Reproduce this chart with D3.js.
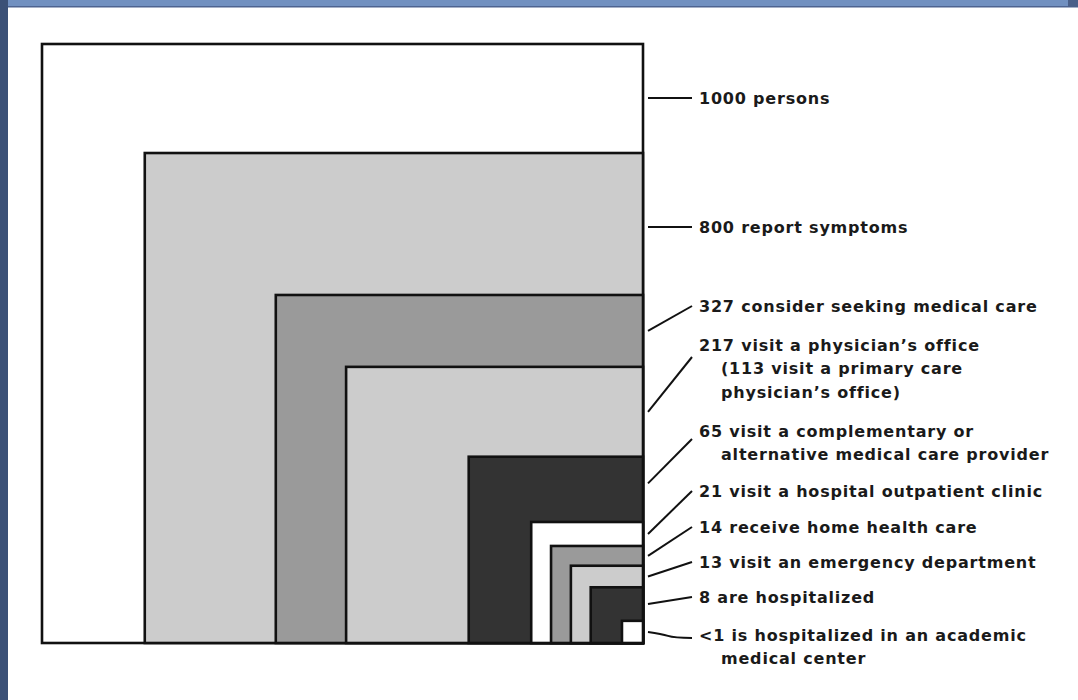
<!DOCTYPE html>
<html><head><meta charset="utf-8">
<script src="https://cdn.jsdelivr.net/npm/d3@7"></script>
<style>html,body{margin:0;padding:0;background:#fff;}svg{display:block;}</style>
</head><body>
<svg id="c" width="1078" height="700"></svg>
<script>
// ---- data ----
const counts = ["1000", "800", "327", "217", "65", "21", "14", "13", "8", "<1"];
const labels = [
  ["1000 persons"],
  ["800 report symptoms"],
  ["327 consider seeking medical care"],
  ["217 visit a physician\u2019s office", "(113 visit a primary care", "physician\u2019s office)"],
  ["65 visit a complementary or", "alternative medical care provider"],
  ["21 visit a hospital outpatient clinic"],
  ["14 receive home health care"],
  ["13 visit an emergency department"],
  ["8 are hospitalized"],
  ["<1 is hospitalized in an academic", "medical center"]
];
// schematic box extents (in units where outer box = 1000)
const boxWidth  = [1000, 829, 611, 494, 290, 186, 153, 120, 87, 35];
const boxHeight = [1000, 818, 581, 461, 311, 202, 162, 129, 93, 37];

// ---- layout / style ----
const fillPalette = ["#ffffff", "#cccccc", "#9a9a9a", "#cccccc", "#333333", "#ffffff", "#9a9a9a", "#cccccc", "#333333", "#ffffff"];
const labelY = [98, 227, 306, 345, 431, 491, 527, 562, 597, 635];

const svg = d3.select("#c");
// frame
svg.append("rect").attr("x", 0).attr("y", 0).attr("width", 1078).attr("height", 700).attr("fill", "#ffffff");
svg.append("rect").attr("x", 0).attr("y", 0).attr("width", 1078).attr("height", 7).attr("fill", "#7190c0");
svg.append("rect").attr("x", 0).attr("y", 6).attr("width", 1078).attr("height", 1.5).attr("fill", "#4d6390");
svg.append("rect").attr("x", 1068).attr("y", 0).attr("width", 10).attr("height", 7).attr("fill", "#4a5f88");
svg.append("rect").attr("x", 0).attr("y", 0).attr("width", 8).attr("height", 700).attr("fill", "#3c5177");

const x = d3.scaleLinear().domain([0, 1000]).range([643, 42]);
const y = d3.scaleLinear().domain([0, 1000]).range([643, 44]);
const color = d3.scaleOrdinal().domain(counts).range(fillPalette);

const idx = d3.range(counts.length);
svg.append("g").selectAll("rect").data(idx).join("rect")
  .attr("x", i => x(boxWidth[i]))
  .attr("y", i => y(boxHeight[i]))
  .attr("width", i => x(0) - x(boxWidth[i]))
  .attr("height", i => y(0) - y(boxHeight[i]))
  .attr("fill", i => color(counts[i]))
  .attr("stroke", "#111")
  .attr("stroke-width", 2.6);

// leader lines
const xEdge = 648, xText = 692;
const bandMid = i => {
  const top = y(boxHeight[i]);
  const bot = i + 1 < counts.length ? y(boxHeight[i + 1]) : y(0);
  return (top + bot) / 2;
};
const g = svg.append("g");
idx.forEach(i => {
  const y0 = i < 2 ? labelY[i] : (i === 4 ? bandMid(i) - 6 : bandMid(i));
  const y1 = i === counts.length - 1 ? labelY[i] + 3 : (i === 4 ? labelY[i] + 8 : (i === 3 ? labelY[i] + 12 : labelY[i]));
  if (i === counts.length - 1) {
    g.append("path")
      .attr("d", `M${xEdge},${y0} Q${xEdge + 14},${y0 + 2} ${xEdge + 20},${y0 + 4} T${xText},${y1}`)
      .attr("fill", "none").attr("stroke", "#111").attr("stroke-width", 2);
  } else {
    g.append("line").attr("x1", xEdge).attr("y1", y0).attr("x2", xText).attr("y2", y1)
      .attr("stroke", "#111").attr("stroke-width", 2);
  }
  const t = g.append("text")
    .attr("font-family", "DejaVu Sans, sans-serif")
    .attr("font-weight", "bold")
    .attr("font-size", 16)
    .attr("letter-spacing", 0.8)
    .attr("fill", "#1a1a1a");
  labels[i].forEach((line, k) => {
    t.append("tspan")
      .attr("x", k === 0 ? 699 : 721)
      .attr("y", labelY[i] + k * 23.5)
      .attr("dy", "0.35em")
      .text(line);
  });
});
</script>
</body></html>
